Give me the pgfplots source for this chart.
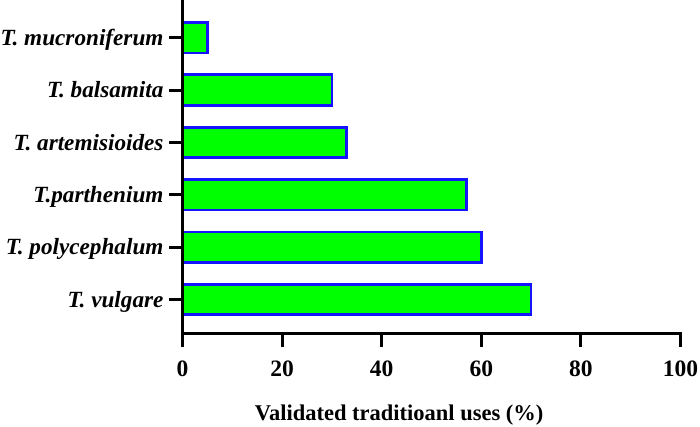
\documentclass[border=0pt]{standalone}
\usepackage{fontspec}
\setmainfont{Liberation Serif}
\usepackage{pgfplots}
\pgfplotsset{compat=1.18}
\definecolor{barfill}{RGB}{0,255,0}
\definecolor{barline}{RGB}{20,20,255}
\begin{document}
\begin{tikzpicture}
\begin{axis}[
  at={(182.5pt,93pt)}, anchor=south west,
  scale only axis, width=498pt, height=333pt,
  xbar, bar width=30.4pt,
  xmin=0, xmax=100, ymin=-0.658, ymax=5.70,
  enlarge x limits=false, enlarge y limits=false,
  axis line style={draw=none},
  xtick pos=bottom, ytick pos=left,
  xtick={0,20,40,60,80,100}, ytick={0,1,2,3,4,5},
  yticklabels={T. vulgare, T. polycephalum, T.parthenium, T. artemisioides\ , T. balsamita\ , T. mucroniferum},
  tick align=outside, major tick length=13pt,
  tick style={line width=3pt, black},
  minor tick num=0,
  /pgf/number format/assume math mode=true,
  xticklabel style={font=\fontsize{23.5}{28}\selectfont\bfseries, anchor=base, yshift=-30pt},
  yticklabel style={font=\fontsize{23.2}{28}\selectfont\bfseries\itshape, anchor=base east, xshift=-2.5pt, yshift=-7.8pt},
  typeset ticklabels with strut=false,
  xlabel={Validated traditioanl uses (\%)},
  xlabel style={font=\fontsize{22.5}{27}\selectfont\bfseries, at={(axis description cs:0.435,0)}, anchor=base, yshift=-87pt},
  clip=false,
]
\addplot[fill=barfill, draw=barline, line width=2.7pt] coordinates {(70,0) (60,1) (57,2) (33,3) (30,4) (5,5)};
\draw[black, line width=3pt, line cap=rect, line join=miter] (rel axis cs:0,1) -- (rel axis cs:0,0) -- (rel axis cs:1,0);
\end{axis}
\pgfresetboundingbox
\useasboundingbox (0,0) rectangle (700pt,427pt);
\end{tikzpicture}
\end{document}
